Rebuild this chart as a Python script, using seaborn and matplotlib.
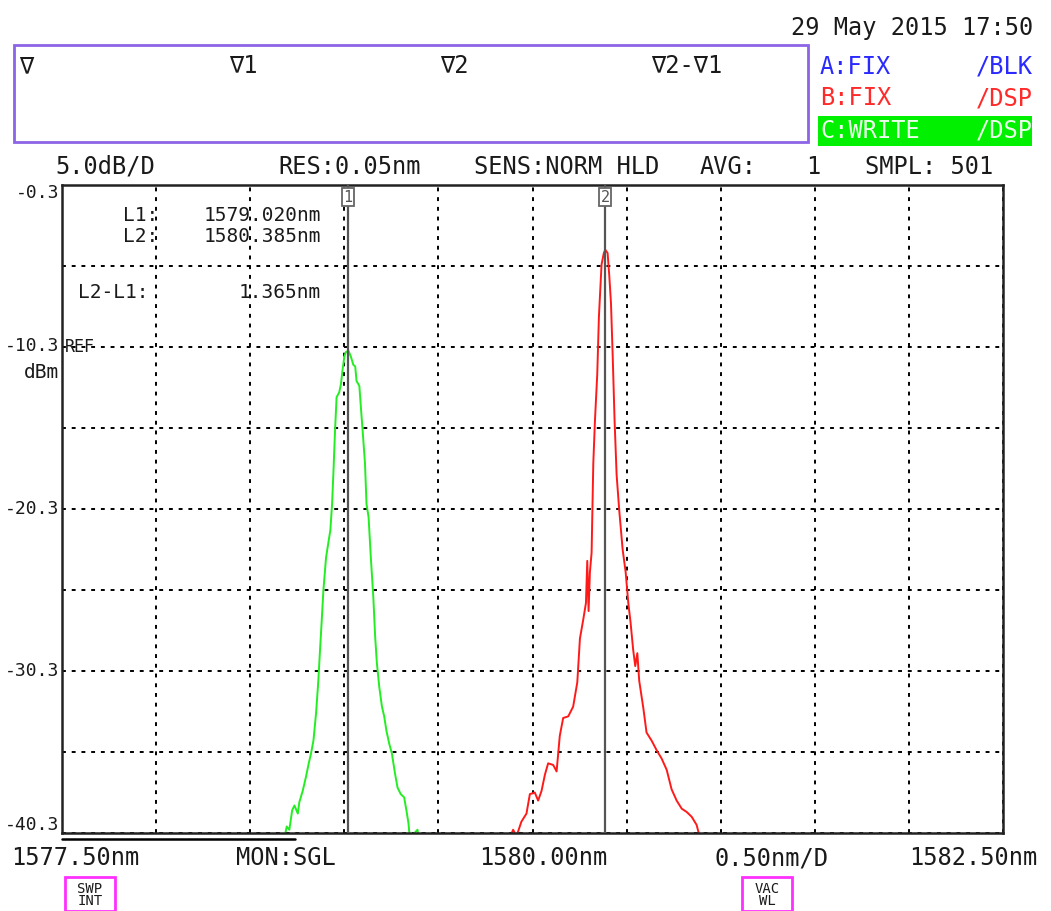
import numpy as np
import pandas as pd
import matplotlib
matplotlib.use("Agg")
import matplotlib.pyplot as plt
from matplotlib.patches import Rectangle
from matplotlib.transforms import blended_transform_factory
import seaborn as sns

# ---------------- data ----------------
green_nm = [1578.682, 1578.694, 1578.708, 1578.723, 1578.735, 1578.753, 1578.761, 1578.779,
            1578.797, 1578.811, 1578.823, 1578.836, 1578.850, 1578.862, 1578.871, 1578.880,
            1578.889, 1578.903, 1578.915, 1578.926, 1578.935, 1578.942, 1578.951, 1578.959,
            1578.973, 1578.982, 1578.991, 1579.000, 1579.009, 1579.023, 1579.035, 1579.048,
            1579.058, 1579.065, 1579.080, 1579.088, 1579.097, 1579.110, 1579.118, 1579.129,
            1579.141, 1579.154, 1579.164, 1579.173, 1579.186, 1579.200, 1579.212, 1579.224,
            1579.239, 1579.253, 1579.269, 1579.283, 1579.300, 1579.318, 1579.330, 1579.341,
            1579.348, 1579.389, 1579.395]
green_dbm = [-40.6, -39.9, -40.1, -38.9, -38.6, -39.1, -38.4, -37.7,
             -36.8, -36.0, -35.4, -34.6, -32.9, -30.9, -29.0, -27.2,
             -25.3, -23.3, -22.4, -21.6, -20.0, -18.1, -15.4, -13.4,
             -13.1, -12.6, -11.7, -10.9, -10.6, -10.55, -10.9, -11.4,
             -11.5, -12.4, -12.7, -14.0, -15.4, -17.5, -20.0, -20.8,
             -23.3, -25.7, -28.2, -29.8, -31.3, -32.5, -33.1, -34.0,
             -34.8, -35.4, -36.6, -37.5, -37.9, -38.1, -38.9, -39.7,
             -40.6, -40.1, -40.6]

red_nm = [1579.879, 1579.897, 1579.915, 1579.941, 1579.968, 1579.986, 1580.012, 1580.030,
          1580.048, 1580.066, 1580.083, 1580.110, 1580.128, 1580.145, 1580.163, 1580.190,
          1580.216, 1580.238, 1580.252, 1580.270, 1580.284, 1580.291, 1580.298, 1580.305,
          1580.314, 1580.323, 1580.332, 1580.344, 1580.353, 1580.367, 1580.379, 1580.387,
          1580.399, 1580.408, 1580.417, 1580.426, 1580.436, 1580.447, 1580.461, 1580.479,
          1580.495, 1580.509, 1580.521, 1580.535, 1580.546, 1580.557, 1580.567, 1580.589,
          1580.606, 1580.633, 1580.660, 1580.686, 1580.713, 1580.739, 1580.766, 1580.793,
          1580.819, 1580.846, 1580.872, 1580.890, 1580.930]
red_dbm = [-40.6, -40.1, -40.5, -39.6, -39.1, -37.9, -37.8, -38.3,
           -37.7, -36.7, -36.0, -36.1, -36.5, -34.3, -33.2, -33.1,
           -32.5, -31.0, -28.3, -27.1, -26.1, -23.5, -26.6, -24.2,
           -23.0, -17.5, -14.8, -12.0, -8.4, -5.2, -4.5, -4.3,
           -4.5, -5.9, -7.6, -10.8, -14.8, -18.2, -20.4, -22.8,
           -24.2, -26.1, -27.3, -29.0, -30.0, -29.2, -30.9, -32.6,
           -34.1, -34.6, -35.2, -35.7, -36.4, -37.6, -38.3, -38.8,
           -39.0, -39.3, -39.8, -40.6, -40.6]

trace_a_nm = [1577.50, 1578.74]
trace_a_dbm = [-40.67, -40.67]

marker_nm = [1579.020, 1580.385]
marker_names = ["1", "2"]

y_ticks = [-0.3, -5.3, -10.3, -15.3, -20.3, -25.3, -30.3, -35.3, -40.3]
y_labels = ["-0.3", "-10.3", "-20.3", "-30.3", "-40.3"]
x_ticks = [1577.5 + 0.5 * i for i in range(11)]

# ---------------- figure ----------------
W, H = 1051, 911
sns.set_style("white")
plt.rcParams["font.family"] = ["DejaVu Sans Mono", "DejaVu Sans"]
fig = plt.figure(figsize=(W / 100, H / 100), dpi=100)
fig.patch.set_facecolor("white")


def fx(x):
    return x / W


def fy(y):
    return 1 - y / H


L, R, T, B = 62, 1003, 185, 833
ax = fig.add_axes([fx(L), fy(B), (R - L) / W, (B - T) / H])
ax.set_xlim(1577.5, 1582.5)
ax.set_ylim(-40.3, -0.3)
ax.set_xticks(x_ticks)
ax.set_yticks(y_ticks)
ax.tick_params(length=0, labelbottom=False, labelleft=False)
ax.grid(True, color="black", linestyle=(0, (2, 3)), linewidth=1.4)
for s in ax.spines.values():
    s.set_color("#222222")
    s.set_linewidth(1.8)

green_df = pd.DataFrame({"nm": green_nm, "dbm": green_dbm})
red_df = pd.DataFrame({"nm": red_nm, "dbm": red_dbm})
a_df = pd.DataFrame({"nm": trace_a_nm, "dbm": trace_a_dbm})

sns.lineplot(data=green_df, x="nm", y="dbm", ax=ax, color="#22ee22", linewidth=1.4,
             estimator=None, sort=False)
sns.lineplot(data=red_df, x="nm", y="dbm", ax=ax, color="#ff1a1a", linewidth=1.4,
             estimator=None, sort=False)
sns.lineplot(data=a_df, x="nm", y="dbm", ax=ax, color="black", linewidth=1.8,
             estimator=None, sort=False, clip_on=False)
ax.set_xlabel("")
ax.set_ylabel("")

trans = blended_transform_factory(ax.transData, ax.transAxes)
for m, name in zip(marker_nm, marker_names):
    ax.axvline(m, color="#555555", linewidth=1.6, zorder=5)
    ax.text(m, 0.993, name, transform=trans, ha="center", va="top", fontsize=11,
            color="#555555", zorder=6,
            bbox=dict(boxstyle="square,pad=0.12", fc="white", ec="#666666", lw=1.3))

# ---------------- texts ----------------
TXT = 17
dark = "#1a1a1a"

fig.text(fx(1033), fy(28), "29 May 2015 17:50", ha="right", va="center", fontsize=TXT, color=dark)

fig.patches.append(Rectangle((fx(14), fy(142)), fx(808 - 14), (142 - 45) / H,
                             transform=fig.transFigure, fill=False, ec="#8c64e6", lw=2))
for xx, s in [(19, "∇"), (229, "∇1"), (440, "∇2"), (651, "∇2-∇1")]:
    fig.text(fx(xx), fy(66), s, ha="left", va="center", fontsize=TXT, color=dark)

fig.text(fx(820), fy(67), "A:FIX", ha="left", va="center", fontsize=TXT, color="#2a2aff")
fig.text(fx(1033), fy(67), "/BLK", ha="right", va="center", fontsize=TXT, color="#2a2aff")
fig.text(fx(820), fy(98), "B:FIX", ha="left", va="center", fontsize=TXT, color="#ff2a2a")
fig.text(fx(1033), fy(98), "/DSP", ha="right", va="center", fontsize=TXT, color="#ff2a2a")
fig.patches.append(Rectangle((fx(818), fy(146)), fx(1032 - 818), (146 - 116) / H,
                             transform=fig.transFigure, fill=True, fc="#00f000", ec="none"))
fig.text(fx(820), fy(131), "C:WRITE", ha="left", va="center", fontsize=TXT, color="#eaffea")
fig.text(fx(1033), fy(131), "/DSP", ha="right", va="center", fontsize=TXT, color="#eaffea")

header = [(55, "5.0dB/D"), (278, "RES:0.05nm"), (474, "SENS:NORM HLD"), (700, "AVG:"),
          (806, "1"), (865, "SMPL: 501")]
for xx, s in header:
    fig.text(fx(xx), fy(167), s, ha="left", va="center", fontsize=TXT, color=dark)

# y labels
YL = 13
fig.text(fx(59), fy(184), y_labels[0], ha="right", va="top", fontsize=YL, color=dark)
fig.text(fx(59), fy(346), y_labels[1], ha="right", va="center", fontsize=YL, color=dark)
fig.text(fx(59), fy(373), "dBm", ha="right", va="center", fontsize=YL + 1, color=dark)
fig.text(fx(59), fy(509), y_labels[2], ha="right", va="center", fontsize=YL, color=dark)
fig.text(fx(59), fy(671), y_labels[3], ha="right", va="center", fontsize=YL, color=dark)
fig.text(fx(59), fy(834), y_labels[4], ha="right", va="bottom", fontsize=YL, color=dark)
fig.text(fx(65), fy(347), "REF", ha="left", va="center", fontsize=12, color=dark)

# marker readout
MK = 14
fig.text(fx(123), fy(216), "L1:", ha="left", va="center", fontsize=MK, color=dark)
fig.text(fx(321), fy(216), "1579.020nm", ha="right", va="center", fontsize=MK, color=dark)
fig.text(fx(123), fy(236), "L2:", ha="left", va="center", fontsize=MK, color=dark)
fig.text(fx(321), fy(236), "1580.385nm", ha="right", va="center", fontsize=MK, color=dark)
fig.text(fx(78), fy(293), "L2-L1:", ha="left", va="center", fontsize=MK, color=dark)
fig.text(fx(321), fy(293), "1.365nm", ha="right", va="center", fontsize=MK, color=dark)

# bottom labels
bottom = [(11, "1577.50nm"), (236, "MON:SGL"), (479, "1580.00nm"), (714, "0.50nm/D"),
          (909, "1582.50nm")]
for xx, s in bottom:
    fig.text(fx(xx), fy(858), s, ha="left", va="center", fontsize=TXT, color=dark)

for x0, s in [(65, "SWP\nINT"), (742, "VAC\nWL")]:
    fig.patches.append(Rectangle((fx(x0), fy(911)), fx(50), (911 - 877) / H,
                                 transform=fig.transFigure, fill=False, ec="#ff30ff", lw=2))
    fig.text(fx(x0 + 25), fy(895), s, ha="center", va="center", fontsize=10,
             color=dark, linespacing=0.85)

fig.savefig("out.png", dpi=100, facecolor="white")
